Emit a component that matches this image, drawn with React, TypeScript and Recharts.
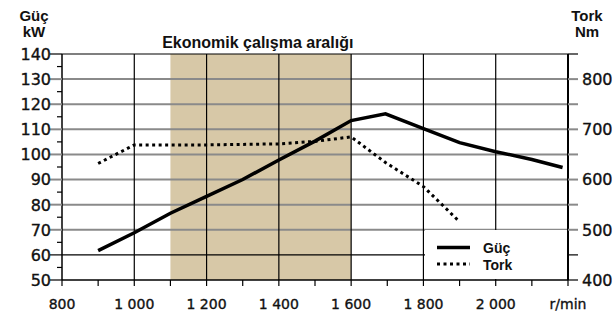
import { ComposedChart, Line, XAxis, YAxis, ReferenceArea, ReferenceLine, Legend } from "recharts";

// engine speed (r/min) with power (kW) and torque (Nm)
const rpm = [900, 1000, 1100, 1200, 1300, 1400, 1500, 1600, 1695, 1800, 1900, 2000, 2100, 2185];
const gucKw = [61.7, 68.8, 76.6, 83.3, 90, 97.8, 105.3, 113.5, 116.2, 110.3, 104.7, 101.1, 98, 94.8];
const torkNm = [632, 669, 669, 669, 670, 671, 676, 685, 634, 586, 516, null, null, null];

const rpmTicks = [800, 900, 1000, 1100, 1200, 1300, 1400, 1500, 1600, 1700, 1800, 1900, 2000, 2100, 2200];
const rpmTickLabels = ["800", "", "1 000", "", "1 200", "", "1 400", "", "1 600", "", "1 800", "", "2 000", "", "r/min"];
const kwTicks = [50, 55, 60, 65, 70, 75, 80, 85, 90, 95, 100, 105, 110, 115, 120, 125, 130, 135, 140];
const nmTicks = [400, 450, 500, 550, 600, 650, 700, 750, 800, 850];
const nmTickLabels = ["400", "", "500", "", "600", "", "700", "", "800", ""];
const kwGrid = [70, 80, 90, 100, 110, 120, 130];
const kwDarkLines = [60, 140];
const rpmGrid = [1000, 1200, 1400, 1600, 1800, 2000];
const ecoRange = [1100, 1600];

const data = rpm.map((r, i) => ({ rpm: r, guc: gucKw[i], tork: torkNm[i] }));

const GRID = "#8a8a8a";
const TAN = "#d7c8a7";
const SANS = "'Liberation Sans', Arial, sans-serif";
const TICK_FONT = "'DejaVu Sans', sans-serif";

const RpmTick = (props: any) => {
  const { x, y, index } = props;
  return (
    <g>
      <line x1={x} x2={x} y1={y} y2={y + 6} stroke="#000" strokeWidth={1.2} />
      <text x={x} y={y + 29} textAnchor="middle" fontFamily={TICK_FONT} fontSize={14} fill="#111" stroke="#111" strokeWidth={0.35}>
        {rpmTickLabels[index]}
      </text>
    </g>
  );
};

const KwTick = (props: any) => {
  const { x, y, payload } = props;
  const v = payload.value;
  const major = v % 10 === 0;
  const gray = major && v !== 50 && !kwDarkLines.includes(v);
  return (
    <g>
      <line x1={x - (major ? 12 : 5)} x2={x} y1={y} y2={y} stroke={gray ? GRID : "#000"} strokeWidth={gray ? 2 : 1.2} />
      {major && (
        <text x={x - 11} y={y} dy="0.37em" textAnchor="end" fontFamily={TICK_FONT} fontSize={16} fill="#111" stroke="#111" strokeWidth={0.35}>
          {v}
        </text>
      )}
    </g>
  );
};

const NmTick = (props: any) => {
  const { x, y, index, payload } = props;
  const v = payload.value;
  const gray = v !== 400 && v !== 450 && v !== 850;
  return (
    <g>
      <line x1={x} x2={x + 10} y1={y} y2={y} stroke={gray ? GRID : "#000"} strokeWidth={gray ? 2 : 1.2} />
      <text x={x + 14} y={y} dy="0.37em" textAnchor="start" fontFamily={TICK_FONT} fontSize={16} fill="#111" stroke="#111" strokeWidth={0.35}>
        {nmTickLabels[index]}
      </text>
    </g>
  );
};

const AxisTitle = (lines: string[], dx: number) => (props: any) => {
  const { viewBox } = props;
  const cx = viewBox.x + dx;
  return (
    <g fontFamily={SANS} fontWeight="bold" fontSize={15} fill="#111" textAnchor="middle">
      <text x={cx} y={viewBox.y - 33}>{lines[0]}</text>
      <text x={cx} y={viewBox.y - 17}>{lines[1]}</text>
    </g>
  );
};

const EcoTitle = (props: any) => {
  const { viewBox } = props;
  return (
    <text x={viewBox.x + viewBox.width / 2 - 3} y={viewBox.y - 6.5} textAnchor="middle" fontFamily={SANS} fontWeight="bold" fontSize={16} fill="#111">
      Ekonomik çalışma aralığı
    </text>
  );
};

const LegendBox = () => (
  <svg width={142} height={49} style={{ display: "block" }}>
    <line x1={12} x2={45} y1={17.5} y2={17.5} stroke="#000" strokeWidth={3.5} />
    <line x1={12} x2={45} y1={34} y2={34} stroke="#000" strokeWidth={3} strokeDasharray="3 3.5" />
    <g fontFamily={SANS} fontWeight="bold" fontSize={14} fill="#111">
      <text x={58} y={22.5}>Güç</text>
      <text x={58} y={40}>Tork</text>
    </g>
  </svg>
);

export default function App() {
  return (
    <div style={{ position: "absolute", left: 0, top: 0, background: "#fff" }}>
      <ComposedChart width={615} height={317} data={data} margin={{ top: 54, right: 0, left: 0, bottom: 0 }}>
        <XAxis
          dataKey="rpm"
          type="number"
          domain={[800, 2200]}
          ticks={rpmTicks}
          interval={0}
          height={37}
          tickSize={0}
          tickMargin={0}
          tickLine={false}
          axisLine={{ stroke: "#000", strokeWidth: 1.5 }}
          tick={<RpmTick />}
        />
        <YAxis
          yAxisId="kw"
          domain={[50, 140]}
          ticks={kwTicks}
          interval={0}
          width={62}
          tickSize={0}
          tickMargin={0}
          tickLine={false}
          axisLine={{ stroke: "#000", strokeWidth: 1.5 }}
          tick={<KwTick />}
          label={{ content: AxisTitle(["Güç", "kW"], 34) }}
        />
        <YAxis
          yAxisId="nm"
          orientation="right"
          domain={[400, 850]}
          ticks={nmTicks}
          interval={0}
          width={47}
          tickSize={0}
          tickMargin={0}
          tickLine={false}
          axisLine={{ stroke: "#000", strokeWidth: 2 }}
          tick={<NmTick />}
          label={{ content: AxisTitle(["Tork", "Nm"], 19) }}
        />
        <ReferenceArea yAxisId="kw" x1={ecoRange[0]} x2={ecoRange[1]} fill={TAN} fillOpacity={1} stroke="none" label={{ content: EcoTitle }} />
        {kwGrid.map((v) => (
          <ReferenceLine key={`h${v}`} yAxisId="kw" y={v} stroke={GRID} strokeWidth={2} />
        ))}
        {kwDarkLines.map((v) => (
          <ReferenceLine key={`d${v}`} yAxisId="kw" y={v} stroke="#000" strokeWidth={1.2} />
        ))}
        {rpmGrid.map((v) => (
          <ReferenceLine key={`v${v}`} yAxisId="kw" x={v} stroke="#000" strokeWidth={1.2} />
        ))}
        <Legend
          layout="vertical"
          align="center"
          verticalAlign="middle"
          content={<LegendBox />}
          wrapperStyle={{ left: 425, top: 230, width: 142, height: 49, background: "#fff" }}
        />
        <Line yAxisId="kw" dataKey="guc" type="linear" stroke="#000" strokeWidth={3.5} dot={false} isAnimationActive={false} />
        <Line
          yAxisId="nm"
          dataKey="tork"
          type="linear"
          stroke="#000"
          strokeWidth={3}
          strokeDasharray="3 3.5"
          dot={false}
          connectNulls={false}
          isAnimationActive={false}
        />
      </ComposedChart>
    </div>
  );
}
